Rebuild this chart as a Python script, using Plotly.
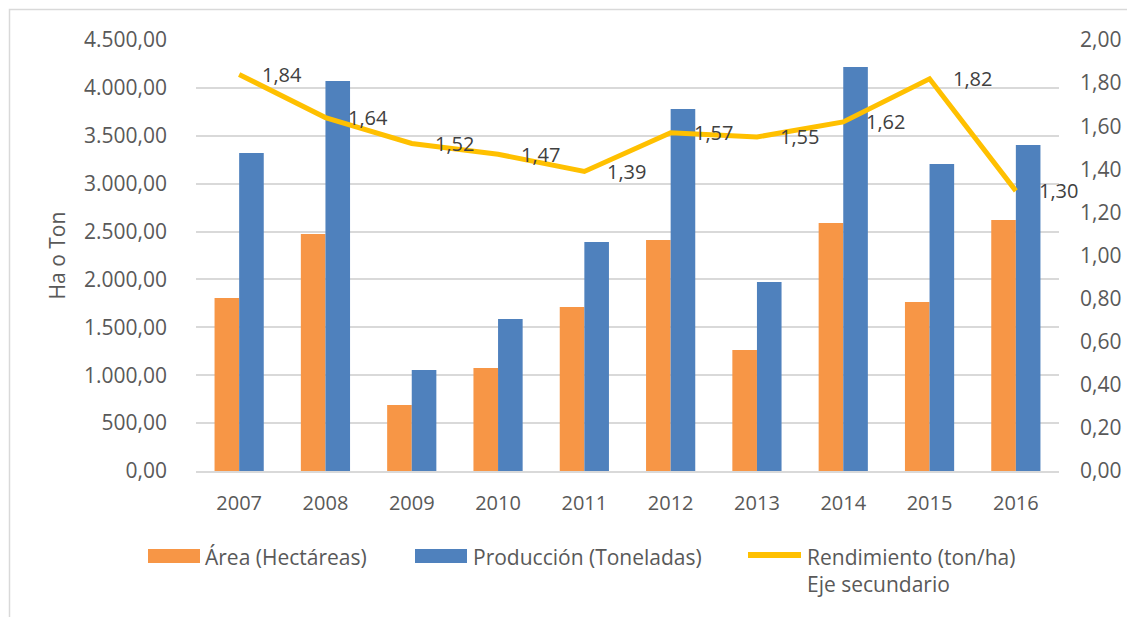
import plotly.graph_objects as go

years = ["2007", "2008", "2009", "2010", "2011", "2012", "2013", "2014", "2015", "2016"]
area_ha = [1806, 2474, 689, 1075, 1712, 2412, 1263, 2589, 1764, 2621]
produccion_ton = [3320, 4072, 1054, 1587, 2391, 3780, 1973, 4218, 3205, 3404]
rendimiento = [1.84, 1.64, 1.52, 1.47, 1.39, 1.57, 1.55, 1.62, 1.82, 1.30]

series_names = ["Área (Hectáreas)", "Producción (Toneladas)", "Rendimiento (ton/ha)<br>Eje secundario"]

ORANGE = "#F79646"
BLUE = "#4F81BD"
YELLOW = "#FFC000"
TXT = "#595959"
GRID = "#D9D9D9"
FONT = "Open Sans"

OFF = 8  # default page body margin
W, H = 1135 - OFF, 617 - OFF
# plot area in screen pixels
L, R, T, B = 196, 1059, 40, 471


def px(x):
    return (x - L) / (R - L)


def py(y):
    return (B - y) / (B - T)


fig = go.Figure()
fig.add_trace(go.Bar(x=years, y=area_ha, name=series_names[0], marker_color=ORANGE,
                     marker_line_width=0, showlegend=False))
fig.add_trace(go.Bar(x=years, y=produccion_ton, name=series_names[1], marker_color=BLUE,
                     marker_line_width=0, showlegend=False))
fig.add_trace(go.Scatter(x=years, y=rendimiento, name=series_names[2], yaxis="y2",
                         mode="lines", line=dict(color=YELLOW, width=5), showlegend=False))

annotations = []
for i, v in enumerate(rendimiento):
    annotations.append(dict(x=i, y=v, xref="x", yref="y2", text=f"{v:.2f}".replace(".", ","),
                            showarrow=False, xanchor="left", yanchor="middle", xshift=21,
                            font=dict(family=FONT, size=20, color="#404040")))

# custom legend
shapes = [
    dict(type="rect", xref="paper", yref="paper", x0=px(9.5), x1=px(1145), y0=py(640), y1=py(9.5),
         line=dict(color=GRID, width=1.5), fillcolor="rgba(0,0,0,0)", layer="below"),
    dict(type="rect", xref="paper", yref="paper", x0=px(148), x1=px(200), y0=py(563), y1=py(549),
         line=dict(width=0), fillcolor=ORANGE),
    dict(type="rect", xref="paper", yref="paper", x0=px(415), x1=px(467), y0=py(563), y1=py(549),
         line=dict(width=0), fillcolor=BLUE),
    dict(type="line", xref="paper", yref="paper", x0=px(748), x1=px(801), y0=py(555), y1=py(555),
         line=dict(color=YELLOW, width=6)),
]
legend_pos = [(203, 556), (471, 556), (805, 556)]
for name, (lx, ly) in zip(series_names, legend_pos):
    annotations.append(dict(x=px(lx), y=py(ly - 15), xref="paper", yref="paper", text=name,
                            showarrow=False, xanchor="left", yanchor="top", align="left",
                            font=dict(family=FONT, size=21, color=TXT)))

fig.update_layout(
    width=W, height=H,
    margin=dict(l=L - OFF, r=1135 - R, t=T - OFF, b=617 - B, pad=0),
    paper_bgcolor="white", plot_bgcolor="white",
    separators=",.",
    barmode="group", bargap=0.43, bargroupgap=0,
    font=dict(family=FONT, color=TXT, size=20),
    xaxis=dict(type="category", range=[-0.5, len(years) - 0.5], showgrid=False, showline=True,
               linecolor=GRID, linewidth=2, ticks="", tickfont=dict(size=20, color=TXT),
               ticklabelstandoff=13),
    yaxis=dict(range=[0, 4500], dtick=500, tickformat=",.2f", showgrid=True, gridcolor=GRID,
               gridwidth=1.5, zeroline=False, showline=False, ticks="",
               tickfont=dict(size=21, color=TXT), ticklabelstandoff=28,
               title=dict(text="Ha o Ton", font=dict(size=21, color=TXT), standoff=12)),
    yaxis2=dict(range=[0, 2], dtick=0.2, tickformat=".2f", overlaying="y", side="right",
                showgrid=False, zeroline=False, showline=False, ticks="",
                tickfont=dict(size=21, color=TXT), ticklabelstandoff=20),
    shapes=shapes,
    annotations=annotations,
    showlegend=False,
)

fig.write_html("out.html")
